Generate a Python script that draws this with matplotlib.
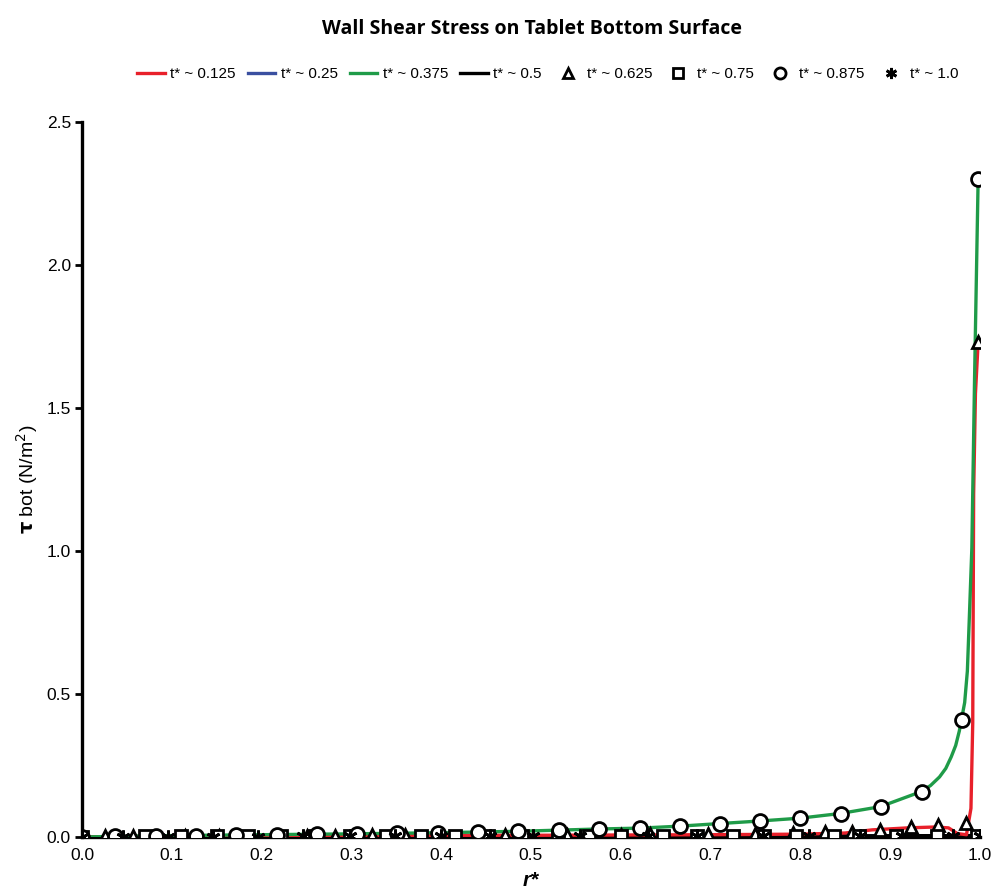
import matplotlib
matplotlib.use("Agg")
import matplotlib.pyplot as plt

# radial position r* and bottom wall shear stress (N/m^2) per dimensionless time
red_r = [0.0, 0.1, 0.3, 0.5, 0.7, 0.8, 0.85, 0.88, 0.92, 0.95, 0.965, 0.975, 0.985,
         0.990, 0.992, 0.993, 0.995, 0.998]
red_tau = [0.0, 0.004, 0.006, 0.006, 0.008, 0.010, 0.014, 0.025, 0.032, 0.035, 0.032,
           0.012, 0.008, 0.10, 0.40, 1.20, 1.55, 1.73]

blue_r = [0.0, 0.5, 1.0]
blue_tau = [0.0, 0.003, 0.004]

green_r = [0.0, 0.05, 0.1, 0.2, 0.3, 0.4, 0.486, 0.531, 0.575, 0.621, 0.666, 0.710,
           0.755, 0.800, 0.844, 0.889, 0.934, 0.945, 0.955, 0.962, 0.968, 0.973,
           0.977, 0.980, 0.983, 0.986, 0.988, 0.991, 0.994, 0.998]
green_tau = [0.0, 0.003, 0.005, 0.008, 0.011, 0.015, 0.020, 0.024, 0.028, 0.031, 0.038,
             0.047, 0.056, 0.066, 0.082, 0.106, 0.158, 0.18, 0.21, 0.24, 0.28, 0.32,
             0.37, 0.42, 0.47, 0.58, 0.75, 1.01, 1.60, 2.30]

black_r = [0.0, 0.2, 0.5, 0.8, 1.0]
black_tau = [0.0, 0.003, 0.004, 0.004, 0.005]

tri_r = [0.0, 0.026, 0.057, 0.115, 0.152, 0.25, 0.282, 0.323, 0.36, 0.40, 0.44, 0.471,
         0.54, 0.60, 0.633, 0.697, 0.75, 0.792, 0.827, 0.857, 0.889, 0.923, 0.953,
         0.985, 0.998]
tri_tau = [0.0, 0.002, 0.003, 0.003, 0.004, 0.005, 0.005, 0.006, 0.006, 0.006, 0.007,
           0.007, 0.008, 0.008, 0.009, 0.010, 0.011, 0.014, 0.017, 0.017, 0.024, 0.035,
           0.042, 0.049, 1.73]

sq_r = [0.0, 0.070, 0.110, 0.150, 0.185, 0.222, 0.260, 0.298, 0.339, 0.378, 0.415,
        0.452, 0.490, 0.530, 0.565, 0.600, 0.647, 0.685, 0.725, 0.760, 0.795, 0.838,
        0.865, 0.907, 0.952, 0.997]
sq_tau = [0.0, 0.002, 0.002, 0.003, 0.003, 0.003, 0.003, 0.004, 0.004, 0.004, 0.004,
          0.004, 0.004, 0.004, 0.004, 0.004, 0.004, 0.004, 0.004, 0.004, 0.004, 0.004,
          0.005, 0.005, 0.005, 0.005]

circ_r = [0.0, 0.037, 0.082, 0.127, 0.172, 0.217, 0.262, 0.306, 0.351, 0.396, 0.441,
          0.486, 0.531, 0.576, 0.621, 0.666, 0.711, 0.755, 0.800, 0.845, 0.890, 0.935,
          0.980, 0.998]
circ_tau = [0.0, 0.002, 0.004, 0.005, 0.006, 0.008, 0.009, 0.011, 0.013, 0.015, 0.017,
            0.020, 0.024, 0.028, 0.031, 0.038, 0.047, 0.056, 0.066, 0.082, 0.106, 0.158,
            0.41, 2.30]

star_r = [0.0, 0.046, 0.096, 0.146, 0.196, 0.246, 0.298, 0.349, 0.400, 0.454, 0.502,
          0.555, 0.630, 0.685, 0.758, 0.810, 0.866, 0.913, 0.970, 1.0]
star_tau = [0.0, 0.001, 0.001, 0.001, 0.001, 0.002, 0.002, 0.002, 0.002, 0.002, 0.002,
            0.002, 0.002, 0.003, 0.003, 0.003, 0.003, 0.003, 0.003, 0.003]

labels = ["t* ~ 0.125", "t* ~ 0.25", "t* ~ 0.375", "t* ~ 0.5",
          "t* ~ 0.625", "t* ~ 0.75", "t* ~ 0.875", "t* ~ 1.0"]

plt.rcParams["font.family"] = ["Liberation Sans", "DejaVu Sans"]

fig = plt.figure(figsize=(10.03, 8.93), dpi=100)
ax = fig.add_axes([0.0818, 0.0627, 0.8952, 0.8007])

lw = 2.4
ax.plot(red_r, red_tau, color="#e8202a", lw=lw, label=labels[0], zorder=3)
ax.plot(blue_r, blue_tau, color="#3a4fa0", lw=lw, label=labels[1], zorder=2)
ax.plot(green_r, green_tau, color="#1f9b48", lw=lw, label=labels[2], zorder=3)
ax.plot(black_r, black_tau, color="black", lw=lw, label=labels[3], zorder=2.5)

mk = dict(ls="none", mfc="white", mec="black", mew=2.0, zorder=5)
ax.plot(tri_r, tri_tau, marker="^", ms=9, label=labels[4], **mk)
ax.plot(sq_r, sq_tau, marker="s", ms=9, label=labels[5], **mk)
ax.plot(circ_r, circ_tau, marker="o", ms=10, label=labels[6], **mk)
ax.plot(star_r, star_tau, marker=(6, 2, 0), ms=10, label=labels[7], **mk)

ax.set_xlim(0, 1.0)
ax.set_ylim(0, 2.5)
ax.set_xticks([i / 10 for i in range(11)])
ax.set_yticks([0, 0.5, 1.0, 1.5, 2.0, 2.5])
ax.xaxis.set_major_formatter(plt.FormatStrFormatter("%.1f"))
ax.yaxis.set_major_formatter(plt.FormatStrFormatter("%.1f"))
ax.tick_params(axis="x", length=0, pad=8, labelsize=12.5)
ax.tick_params(axis="y", length=5, width=2, direction="out", pad=3, labelsize=12.5)

for side in ("top", "right"):
    ax.spines[side].set_visible(False)
for side in ("left", "bottom"):
    ax.spines[side].set_linewidth(2.4)
ax.spines["bottom"].set_zorder(1)

ax.set_xlabel("r*", fontsize=15, fontweight="bold", style="italic", labelpad=6)
ax.set_ylabel(r"$\mathbf{\tau}$ bot (N/m$^2$)", fontsize=14, labelpad=5)

fig.text(0.53, 0.968, "Wall Shear Stress on Tablet Bottom Surface",
         ha="center", va="center", fontsize=14, fontweight="bold", family="Open Sans")

leg = fig.legend(loc="center", bbox_to_anchor=(0.546, 0.917), ncol=8, frameon=False,
                 handlelength=1.8, handletextpad=0.35, columnspacing=0.8,
                 markerscale=0.8, prop={"size": 11})

fig.savefig("out.png", dpi=100)
